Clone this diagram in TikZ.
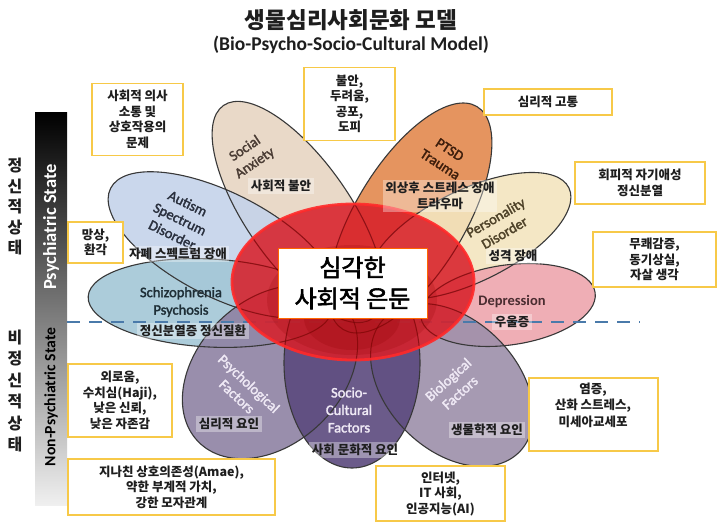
\documentclass[tikz,border=0pt]{standalone}
\usepackage{fontspec}
\setmainfont{Carlito}
\newfontfamily\kr{Noto Sans CJK KR}
\newfontfamily\krm{Noto Sans CJK KR}[FakeBold=2.4]
\newfontfamily\lbl{Carlito}[FakeBold=2]

\definecolor{cSA}{HTML}{E7D5C3}
\definecolor{cPT}{HTML}{E3894E}
\definecolor{cAU}{HTML}{C5D3EA}
\definecolor{cPD}{HTML}{F3E5BF}
\definecolor{cSZ}{HTML}{A3C7D6}
\definecolor{cDP}{HTML}{EEA6AE}
\definecolor{cPS}{HTML}{8F82A3}
\definecolor{cBI}{HTML}{9D90AA}
\definecolor{cSC}{HTML}{5B4A7E}
\definecolor{cRed}{HTML}{D8202A}
\definecolor{cRim}{HTML}{FF2A2A}
\definecolor{cBox}{HTML}{F7C948}
\definecolor{cDash}{HTML}{4A7AAA}
\definecolor{cInk}{HTML}{1E1E1E}
\definecolor{cPale}{HTML}{EFE9F5}
\definecolor{tSA}{HTML}{4A3C34}
\definecolor{tPT}{HTML}{3E1E0C}
\definecolor{tPD}{HTML}{4E4228}
\definecolor{tAU}{HTML}{2A303E}
\definecolor{tSZ}{HTML}{1E2E36}
\definecolor{tDP}{HTML}{4A2C30}

% petal helpers: centre, angle, half-length, half-width (, colour)
\newcommand\leafFill[5]{\path[fill=#5,leaffill,rotate around={#2:(#1)}] (#1) ellipse [x radius=#3pt, y radius=#4pt];}
\newcommand\leafEdge[4]{\path[leafline,rotate around={#2:(#1)}] (#1) ellipse [x radius=#3pt, y radius=#4pt];}
\newcommand\allLeafEdges{%
  \leafEdge{298,212}{-55}{130}{52}
  \leafEdge{410,218}{59}{130}{55}
  \leafEdge{222,245}{-27}{125}{52}
  \leafEdge{470,236}{26}{110}{46}
  \leafEdge{210,303}{-3}{122}{44}
  \leafEdge{508,305}{8}{88}{40}
  \leafEdge{270,372}{44}{100}{72}
  \leafEdge{452,385}{-45}{95}{65}
  \leafEdge{352,363}{0}{68}{105}}

\begin{document}
\begin{tikzpicture}[x=1pt,y=-1pt,
  leaffill/.style={fill opacity=0.9},
  leafline/.style={draw=black!78, line width=1.1pt},
  infobox/.style={draw=cBox, line width=1.3pt, fill=white, align=center, text=cInk,
    font=\kr\bfseries\fontsize{12.5}{15.5}\selectfont, inner sep=0pt},
  korlabel/.style={font=\kr\bfseries\fontsize{12.5}{15.5}\selectfont, text=cInk, fill=white,
    fill opacity=0.35, text opacity=1, inner sep=2.5pt, align=center},
  englabel/.style={font=\lbl\fontsize{14.5}{17.5}\selectfont, align=center},
  sidetext/.style={font=\kr\bfseries\fontsize{16}{20.5}\selectfont, text=cInk, align=center},
  dashline/.style={draw=cDash, line width=2.6pt, dash pattern=on 13pt off 9pt}]

\useasboundingbox (0,0) rectangle (717,522);
\fill[white] (0,0) rectangle (717,522);

% title
\node[font=\kr\bfseries\fontsize{22.5}{26}\selectfont, text=cInk] (title) at (351,20) {생물심리사회문화 모델};
\node[font=\bfseries\fontsize{19.5}{22}\selectfont, text=cInk] (subtitle) at (351,45) {(Bio-Psycho-Socio-Cultural Model)};

% state bar on the left
\shade[top color=black, middle color=black!52, bottom color=black!6] (35,112) rectangle (67,505);
\node[rotate=90, text=white, font=\bfseries\fontsize{18.5}{20}\selectfont] (psy) at (51,227) {Psychiatric State};
\node[rotate=90, text=black, font=\bfseries\fontsize{15.7}{18}\selectfont] (nonpsy) at (51,397) {Non-Psychiatric State};
\node[sidetext] (kpsy) at (15,207) {정\\신\\적\\상\\태};
\node[sidetext, font=\kr\bfseries\fontsize{16}{21.4}\selectfont] (knonpsy) at (15,391) {비\\정\\신\\적\\상\\태};

% petals, fills
\leafFill{298,212}{-55}{130}{52}{cSA}
\leafFill{410,218}{59}{130}{55}{cPT}
\leafFill{222,245}{-27}{125}{52}{cAU}
\leafFill{470,236}{26}{110}{46}{cPD}
\leafFill{210,303}{-3}{122}{44}{cSZ}
\leafFill{508,305}{8}{88}{40}{cDP}
\leafFill{270,372}{44}{100}{72}{cPS}
\leafFill{452,385}{-45}{95}{65}{cBI}
\leafFill{352,363}{0}{68}{105}{cSC}

% petals, outlines
\allLeafEdges

% boundary between the two states
\coordinate (dashL) at (67,322);
\coordinate (dashR) at (640,322);
\draw[dashline] (dashL) -- (dashR);

% red core
\path[fill=cRed, fill opacity=0.87] (353,282) ellipse [x radius=121pt, y radius=78pt];
\begin{scope}
  \clip (353,282) ellipse [x radius=121pt, y radius=78pt];
  \begin{scope}[leafline/.style={draw=red!35!black, line width=1pt, draw opacity=0.5}]
    \allLeafEdges
  \end{scope}
  \fill[red!55!black, opacity=0.18] (352,300) ellipse [x radius=85pt, y radius=55pt];
  \fill[red!55!black, opacity=0.2] (352,318) ellipse [x radius=48pt, y radius=32pt];
\end{scope}
\draw[cRim, line width=2.8pt, opacity=0.9] (353,282) ellipse [x radius=121pt, y radius=78pt];

\node[draw=orange!80!red, line width=0.6pt, fill=white, minimum width=149pt, minimum height=70pt,
  inner sep=0pt, align=center, font=\krm\fontsize{24}{31}\selectfont, text=black] (core) at (352.5,283) {심각한\\사회적 은둔};

% petal titles
\node[englabel, text=tSA, rotate=34] (saE) at (250,156) {Social\\Anxiety};
\node[englabel, text=tPT, rotate=-33] (ptE) at (445,157) {PTSD\\Trauma};
\node[englabel, text=tAU, rotate=-26] (auE) at (180,219) {Autism\\Spectrum\\Disorder};
\node[englabel, text=tPD, rotate=30] (pdE) at (500,225) {Personality\\Disorder};
\node[englabel, text=tSZ] (szE) at (181,302) {Schizophrenia\\Psychosis};
\node[englabel, text=tDP, font=\bfseries\fontsize{14.5}{17}\selectfont] (dpE) at (512,302) {Depression};
\node[englabel, text=cPale, rotate=-43] (psE) at (243,390) {Psychological\\Factors};
\node[englabel, text=cPale, rotate=42] (biE) at (454,386) {Biological\\Factors};
\node[englabel, text=cPale, font=\lbl\fontsize{14.5}{17.5}\selectfont] (scE) at (349,410) {Socio-\\Cultural\\Factors};

% petal titles in Korean
\node[korlabel] (saK) at (281,186) {사회적 불안};
\node[korlabel] (ptK) at (440,196) {외상후 스트레스 장애\\트라우마};
\node[korlabel] (auK) at (178,254) {자폐 스펙트럼 장애};
\node[korlabel] (pdK) at (513,256) {성격 장애};
\node[korlabel] (szK) at (193,331) {정신분열증 정신질환};
\node[korlabel] (dpK) at (512,322) {우울증};
\node[korlabel] (psK) at (229,424) {심리적 요인};
\node[korlabel] (scK) at (355,450) {사회 문화적 요인};
\node[korlabel] (biK) at (487,430) {생물학적 요인};

% notes
\node[infobox, minimum width=91pt, minimum height=72pt] (boxA) at (137.5,119.5) {사회적 의사\\소통 및\\상호작용의\\문제};
\node[infobox, minimum width=91pt, minimum height=73pt] (boxB) at (349.5,104) {불안,\\두려움,\\공포,\\도피};
\node[infobox, minimum width=128pt, minimum height=26pt] (boxC) at (548,102) {심리적 고통};
\node[infobox, minimum width=130pt, minimum height=42pt] (boxD) at (640,183) {회피적 자기애성\\정신분열};
\node[infobox, minimum width=123pt, minimum height=55pt] (boxE) at (654.5,259.5) {무쾌감증,\\동기상실,\\자살 생각};
\node[infobox, minimum width=55pt, minimum height=41pt] (boxF) at (95.5,242.5) {망상,\\환각};
\node[infobox, minimum width=104pt, minimum height=73pt] (boxG) at (120,400.5) {외로움,\\수치심(Haji),\\낮은 신뢰,\\낮은 자존감};
\node[infobox, minimum width=207pt, minimum height=56pt] (boxH) at (171.5,487) {지나친 상호의존성(Amae),\\약한 부계적 가치,\\강한 모자관계};
\node[infobox, minimum width=129pt, minimum height=73pt] (boxI) at (593.5,414.5) {};
\node[align=center, text=cInk, font=\kr\bfseries\fontsize{12.5}{16.5}\selectfont] (boxItext) at (593,405) {염증,\\산화 스트레스,\\미세아교세포};
\node[infobox, minimum width=129pt, minimum height=55pt] (boxJ) at (440.5,493.5) {인터넷,\\IT 사회,\\인공지능(AI)};

\end{tikzpicture}
\end{document}
